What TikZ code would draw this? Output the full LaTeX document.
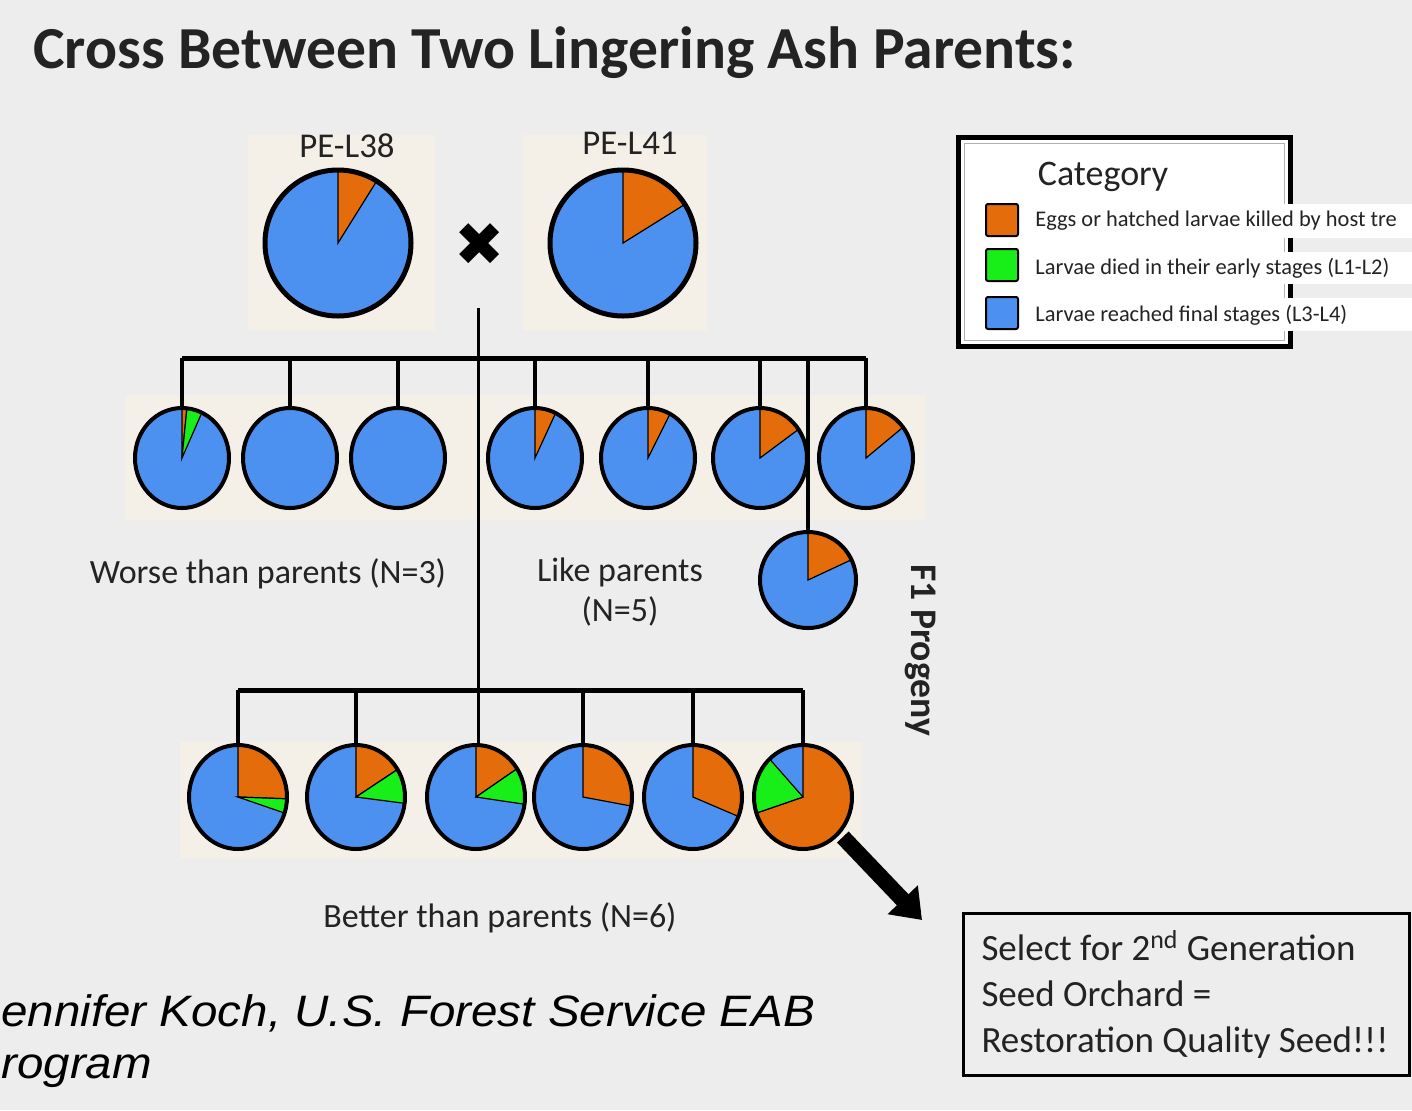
\documentclass[tikz,border=0pt]{standalone}
\usepackage{fontspec}
\setmainfont{Carlito}
\newfontfamily\creditfont{Liberation Sans}
\newfontfamily\symbfont{DejaVu Sans}
\usetikzlibrary{shapes.geometric,arrows.meta,positioning}

\definecolor{bgGrey}{RGB}{237,237,237}
\definecolor{creamBg}{RGB}{244,240,231}
\definecolor{killedOrange}{RGB}{228,108,10}
\definecolor{earlyGreen}{RGB}{24,238,24}
\definecolor{finalBlue}{RGB}{77,145,240}
\definecolor{textGrey}{RGB}{35,35,35}

% pie: name, centre, x radius, y radius, orange end, green end (deg. clockwise from top)
\newcommand{\ashpie}[7][2pt]{%
  \fill[finalBlue] #3 ellipse[x radius=#4, y radius=#5];
  \ifnum#6>0\relax
    \filldraw[killedOrange, draw=black, line width=0.6pt] #3 -- ++(90:#4 and #5)
      arc[start angle=90, end angle=90-#6, x radius=#4, y radius=#5] -- cycle;
  \fi
  \ifnum#7>#6\relax
    \filldraw[earlyGreen, draw=black, line width=0.6pt] #3 -- ++(90-#6:#4 and #5)
      arc[start angle=90-#6, end angle=90-#7, x radius=#4, y radius=#5] -- cycle;
  \fi
  \node[pierim, line width=#1, minimum width=#4pt, minimum height=#5pt] (#2) at #3 {};
}
\newcommand{\fsz}[1]{\fontsize{#1}{1.2\dimexpr#1pt\relax}\selectfont}

\begin{document}
\begin{tikzpicture}[x=0.5pt, y=0.5pt,
    pierim/.style={ellipse, draw=black, inner sep=0pt, outer sep=0pt},
    bar/.style={line width=2.5pt},
    drop/.style={line width=2pt},
    stemline/.style={line width=1.5pt},
    label/.style={font=\fsz{17}, text=textGrey},
    swatch/.style={draw=black, line width=1pt, rounded corners=1pt, minimum size=16pt, inner sep=0pt},
    legtext/.style={anchor=west, font=\fsz{11.2}, text=textGrey, inner sep=0pt},
    bigarrow/.style={line width=8pt, shorten <=3pt, -{Triangle[width=20pt, length=14pt]}}]

  % background
  \fill[bgGrey] (0,0) rectangle (1412,-1110);
  \useasboundingbox (0,0) rectangle (1412,-1110);
  \fill[creamBg] (248,-135) rectangle (435,-330);
  \fill[creamBg] (523,-135) rectangle (707,-330);
  \fill[creamBg] (125,-395) rectangle (925,-520);
  \fill[creamBg] (180,-742) rectangle (862,-858);

  \node[anchor=base west, inner sep=0pt, font=\bfseries\fsz{29.8}, text=textGrey] (title) at (33,-68)
    {Cross Between Two Lingering Ash Parents:};

  % parents
  \node[font=\fsz{17.4}, text=textGrey] (l38) at (347,-146) {PE-L38};
  \node[font=\fsz{17.4}, text=textGrey] (l41) at (630,-143) {PE-L41};
  \ashpie[2.5pt]{p38}{(338,-243)}{73}{73}{32}{32}
  \ashpie[2.5pt]{p41}{(623,-243)}{73}{73}{58}{58}
  \node[font=\symbfont\fsz{30}] (cross) at (480,-245) {✖};

  % F1 progeny, first row
  \ashpie{a1}{(182,-458)}{47}{50}{6}{25}
  \ashpie{a2}{(290,-458)}{47}{50}{0}{0}
  \ashpie{a3}{(398,-458)}{47}{50}{0}{0}
  \ashpie{a4}{(535,-458)}{47}{50}{26}{26}
  \ashpie{a5}{(648,-458)}{47}{50}{28}{28}
  \ashpie{a6}{(760,-458)}{47}{50}{55}{55}
  \ashpie{a7}{(866,-458)}{47}{50}{52}{52}
  \ashpie{a8}{(808,-580)}{48}{48}{65}{65}

  % F1 progeny, second row
  \ashpie{b1}{(238,-797)}{49}{52}{92}{108}
  \ashpie{b2}{(356,-797)}{49}{52}{58}{97}
  \ashpie{b3}{(476,-797)}{49}{52}{57}{98}
  \ashpie{b4}{(583,-797)}{49}{52}{100}{100}
  \ashpie{b5}{(693,-797)}{49}{52}{112}{112}
  \ashpie{b6}{(803,-797)}{49}{52}{252}{317}

  % family tree lines
  \coordinate (stem) at (478,-308);
  \coordinate (bar1) at (478,-358);
  \coordinate (bar2) at (478,-690);
  \draw[stemline] (stem) -- (stem |- b3.north);
  \draw[bar] (a1.north |- bar1) -- (a7.north |- bar1);
  \foreach \p in {a1,a2,a3,a4,a5,a6,a7,a8}
    \draw[drop] (\p.north |- bar1) -- (\p.north);
  \draw[bar] (b1.north |- bar2) -- (b6.north |- bar2);
  \foreach \p in {b1,b2,b4,b5,b6}
    \draw[drop] (\p.north |- bar2) -- (\p.north);

  \node[label] (worse) at (268,-574) {Worse than parents (N=3)};
  \node[label, align=center] (like) at (620,-592) {Like parents\\(N=5)};
  \node[font=\bfseries\fsz{18.8}, text=textGrey, rotate=-90] (f1) at (921,-650) {F1 Progeny};
  \node[label] (better) at (500,-918) {Better than parents (N=6)};

  % legend
  \draw[line width=2.5pt, fill=white] (958,-137) rectangle (1290,-346);
  \draw[gray!60, line width=0.5pt] (964,-143) rectangle (1284,-340);
  \node[font=\fsz{18}, text=textGrey] (cat) at (1103,-177) {Category};
  \fill[white] (1030,-204) rectangle (1412,-238);
  \fill[white] (1030,-252) rectangle (1412,-284);
  \fill[white] (1030,-298) rectangle (1412,-331);
  \node[swatch, fill=killedOrange] (sw1) at (1002,-220) {};
  \node[swatch, fill=earlyGreen] (sw2) at (1002,-265) {};
  \node[swatch, fill=finalBlue] (sw3) at (1002,-313) {};
  \node[legtext] (t1) at (1035,-221) {Eggs or hatched larvae killed by host tre};
  \node[legtext] (t2) at (1035,-268) {Larvae died in their early stages (L1-L2)};
  \node[legtext] (t3) at (1035,-315) {Larvae reached final stages (L3-L4)};

  % selection
  \node[draw, line width=1.5pt, anchor=north west, minimum width=223pt, minimum height=81pt,
        inner xsep=9pt, text width=205pt, align=left, font=\fontsize{18.5}{23}\selectfont, text=textGrey]
    (select) at (962,-912)
    {\spaceskip=0pt\xspaceskip=0pt\relax
     Select for 2\textsuperscript{nd} Generation\\Seed Orchard =\\Restoration Quality Seed!!!};
  \coordinate (tip) at (922,-920);
  \draw[bigarrow] (b6.-45) -- (tip);

  % credit
  \node[anchor=base west, align=left, inner sep=0pt, xscale=1.08,
        font=\creditfont\itshape\fontsize{22}{26}\selectfont]
    (credit) at (1,-1078) {ennifer Koch, U.S. Forest Service EAB\\rogram};
\end{tikzpicture}
\end{document}
